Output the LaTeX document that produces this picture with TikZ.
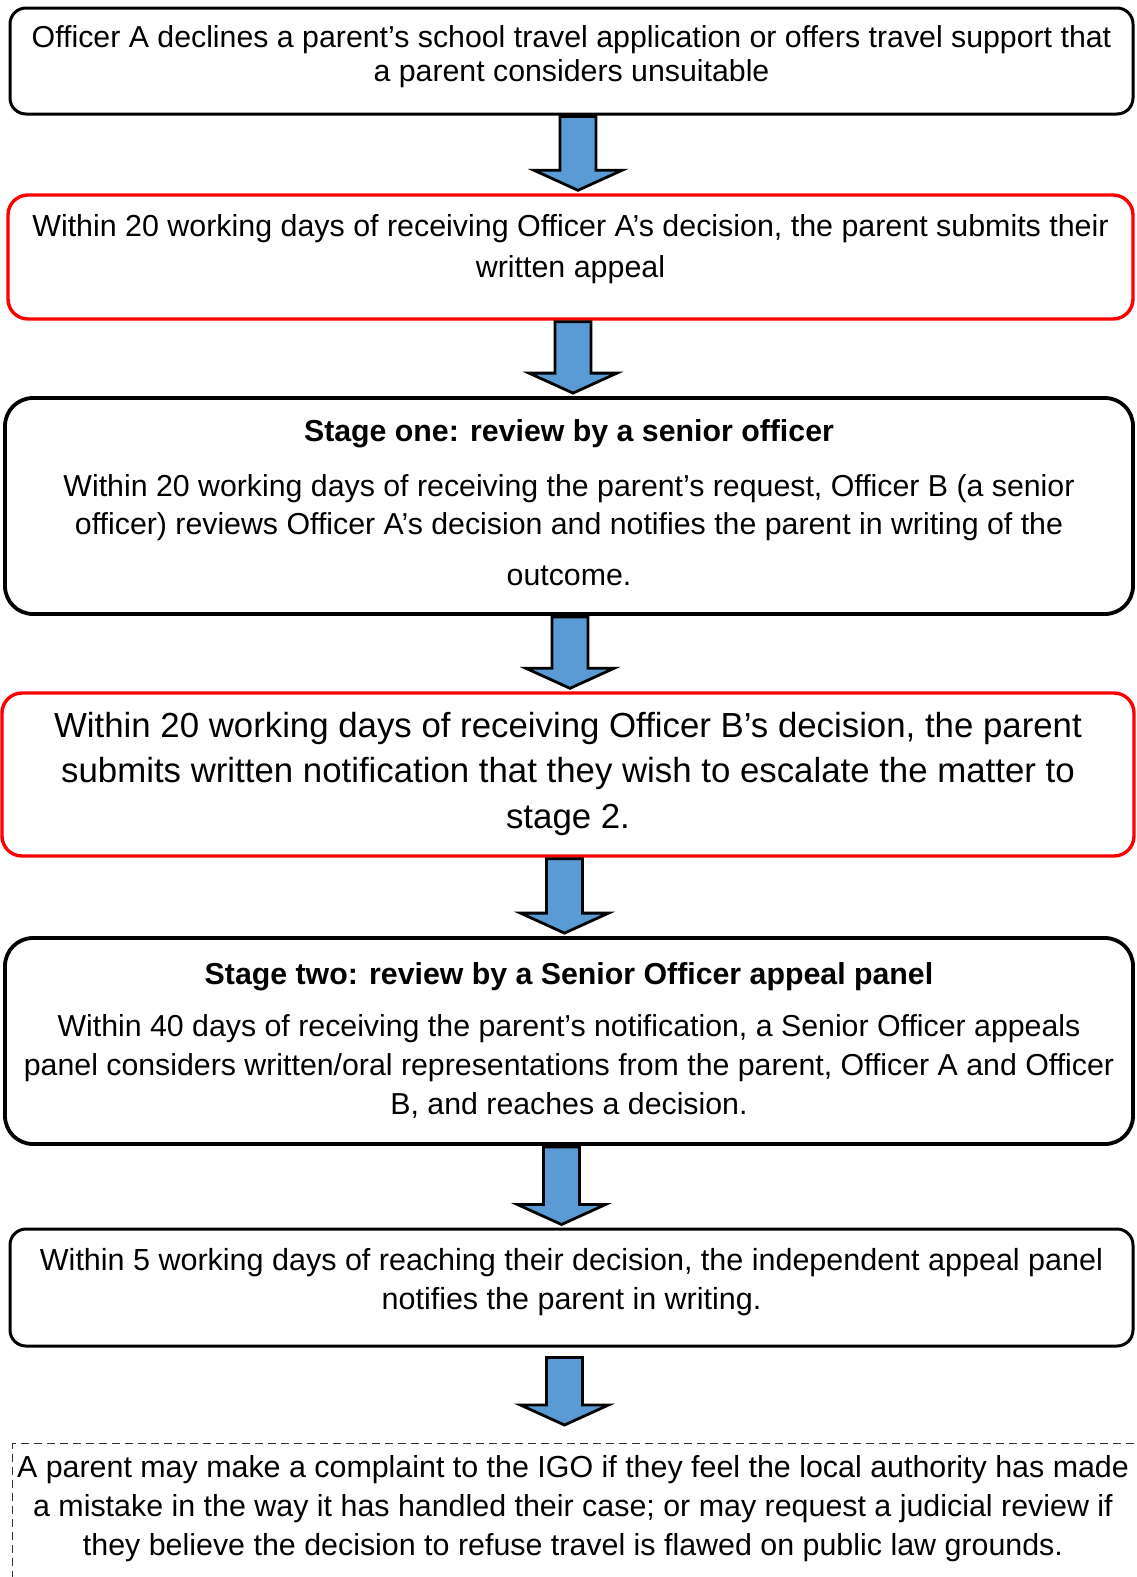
\documentclass[tikz,border=0pt]{standalone}
\usepackage{fontspec}
\setmainfont{Liberation Sans}
\usetikzlibrary{calc}
\definecolor{flowblue}{RGB}{91,155,213}
\definecolor{flowred}{RGB}{255,0,0}
\tikzset{
  flowbox/.style={
    draw=black, line width=3pt, rounded corners=16pt,
    align=center, inner sep=0pt, fill=white
  },
  redbox/.style={flowbox, draw=flowred, line width=3.4pt, rounded corners=20pt},
  stagebox/.style={flowbox, line width=3.8pt, rounded corners=28pt},
  notebox/.style={draw=black!80, line width=1.4pt, dash pattern=on 8pt off 5pt},
  blkarr/.style={draw=black, line width=2.8pt, fill=flowblue, line join=miter},
  every picture/.append style={line join=round}
}
% invisible strut that deepens the last line of a box
\newcommand\lowpad[1]{\rule[-#1]{0pt}{#1}}
% block arrow: shaft top at #1, tip just above #2
\newcommand\stepdown[2]{%
  \draw[blkarr] let \p1=#1, \p2=#2 in
    (\x1-18pt,\y1-1pt) -- (\x1+18pt,\y1-1pt) -- (\x1+18pt,\y2+23pt)
    -- (\x1+44pt,\y2+23pt) -- (\x1,\y2+3pt) -- (\x1-44pt,\y2+23pt)
    -- (\x1-18pt,\y2+23pt) -- cycle;}

\begin{document}
\begin{tikzpicture}[x=1pt, y=1pt]
  \useasboundingbox (0,0) rectangle (1136,-1577);

  \node[flowbox, minimum width=1123pt, minimum height=106pt,
    font=\fontsize{30.3}{34}\selectfont] (decline) at (571.5,-61)
    {Officer A declines a parent’s school travel application or offers travel support that\\
     a parent considers unsuitable\lowpad{14pt}};
  \node[redbox, minimum width=1125pt, minimum height=124pt,
    font=\fontsize{30.4}{41}\selectfont] (appeal) at (570.5,-257)
    {Within 20 working days of receiving Officer A’s decision, the parent submits their\\
     written appeal\lowpad{23pt}};
  \node[stagebox, minimum width=1128pt, minimum height=216pt,
    font=\fontsize{30.3}{38}\selectfont] (stageone) at (569,-506)
    {\textbf{Stage one: review by a senior officer}\\[17pt]
     Within 20 working days of receiving the parent’s request, Officer B (a senior\\
     officer) reviews Officer A’s decision and notifies the parent in writing of the\\[13pt]
     outcome.\lowpad{6pt}};
  \node[redbox, minimum width=1132pt, minimum height=163pt,
    font=\fontsize{34.8}{45.5}\selectfont] (escalate) at (568,-774.5)
    {Within 20 working days of receiving Officer B’s decision, the parent\\
     submits written notification that they wish to escalate the matter to\\
     stage 2.\lowpad{9pt}};
  \node[stagebox, minimum width=1128pt, minimum height=206pt,
    font=\fontsize{30.3}{39}\selectfont] (stagetwo) at (569,-1041)
    {\textbf{Stage two: review by a Senior Officer appeal panel}\\[13pt]
     Within 40 days of receiving the parent’s notification, a Senior Officer appeals\\
     panel considers written/oral representations from the parent, Officer A and Officer\\
     B, and reaches a decision.\lowpad{4pt}};
  \node[flowbox, minimum width=1123pt, minimum height=117pt,
    font=\fontsize{30.5}{39}\selectfont] (notify) at (571.5,-1287.5)
    {Within 5 working days of reaching their decision, the independent appeal panel\\
     notifies the parent in writing.\lowpad{17pt}};
  \node[notebox, anchor=north west, minimum width=1130pt, minimum height=200pt,
    inner sep=0pt] (note) at (12,-1443) {};
  \node[align=center, inner sep=0pt, anchor=north,
    font=\fontsize{30.4}{39}\selectfont] (notetxt) at (573,-1455)
    {A parent may make a complaint to the IGO if they feel the local authority has made\\
     a mistake in the way it has handled their case; or may request a judicial review if\\
     they believe the decision to refuse travel is flawed on public law grounds.};

  \stepdown{([xshift=6.5pt]decline.south)}{(appeal.north)}
  \stepdown{([xshift=2.5pt]appeal.south)}{(stageone.north)}
  \stepdown{([xshift=1pt]stageone.south)}{(escalate.north)}
  \stepdown{([xshift=-3.5pt]escalate.south)}{(stagetwo.north)}
  \stepdown{([xshift=-7.5pt]stagetwo.south)}{(notify.north)}
  \stepdown{([xshift=-7pt,yshift=-9pt]notify.south)}{([yshift=15pt]note.north)}
\end{tikzpicture}
\end{document}
